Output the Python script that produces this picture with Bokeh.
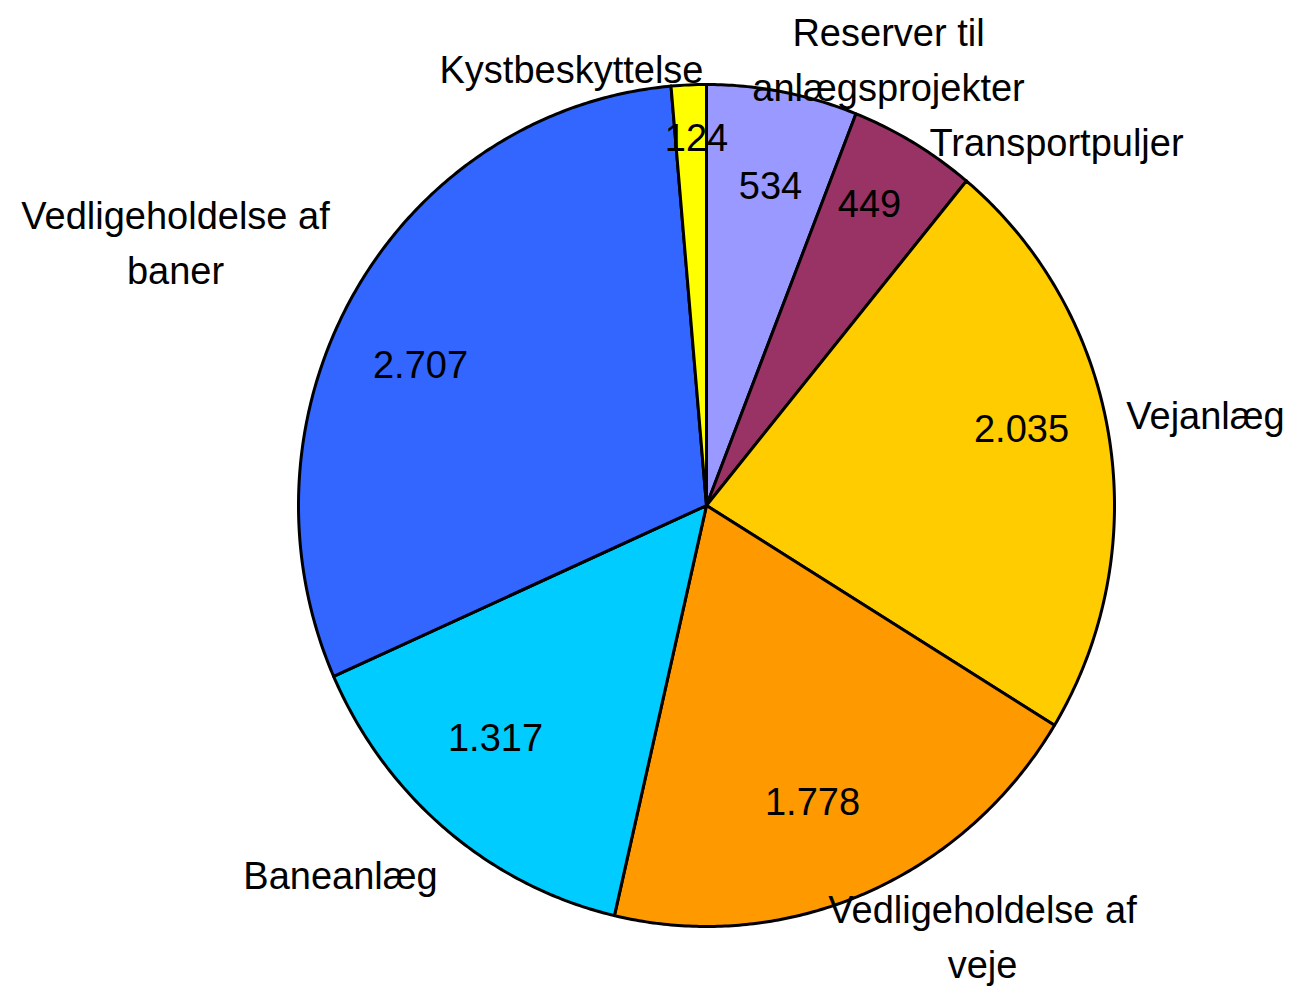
import numpy as np
from bokeh.plotting import figure
from bokeh.models import Range1d, ColumnDataSource
from bokeh.embed import file_html
from bokeh.resources import INLINE
from bokeh.core.properties import value

# ---- data ----
categories = ["Reserver til anlægsprojekter", "Transportpuljer", "Vejanlæg",
              "Vedligeholdelse af veje", "Baneanlæg", "Vedligeholdelse af baner",
              "Kystbeskyttelse"]
label_lines = [["Reserver til", "anlægsprojekter"], ["Transportpuljer"], ["Vejanlæg"],
               ["Vedligeholdelse af", "veje"], ["Baneanlæg"], ["Vedligeholdelse af", "baner"],
               ["Kystbeskyttelse"]]
values = [534, 449, 2035, 1778, 1317, 2707, 124]
value_texts = ["534", "449", "2.035", "1.778", "1.317", "2.707", "124"]

# ---- style / layout ----
colors = ["#9999FF", "#993366", "#FFCC00", "#FF9900", "#00CCFF", "#3366FF", "#FFFF00"]
W, H = 1293, 987
CX, CY, RX, RY = 706, 505, 408, 421
FONT = value("Liberation Sans")
SHIFT = -13
# label anchor positions (page px): (center x, first-line baseline, line spacing)
cat_pos = [(888, 45, 55), (1056, 155, 0), (1205, 428, 0), (982, 922, 55),
           (340, 888, 0), (175, 228, 55), (571, 82, 0)]
val_pos = [(770, 198), (869, 216), (1021, 441), (812, 814), (495, 750), (420, 377), (696, 150)]

p = figure(width=W, height=H, output_backend="svg", toolbar_location=None,
           x_range=Range1d(0, W), y_range=Range1d(H, 0),
           x_axis_type=None, y_axis_type=None, min_border=0)
p.grid.visible = False
p.outline_line_color = None
p.background_fill_color = "white"
p.border_fill_color = "white"

total = float(sum(values))
cum = np.concatenate([[0], np.cumsum(values)]) / total * 2 * np.pi
xs, ys = [], []
for a0, a1 in zip(cum[:-1], cum[1:]):
    n = max(int((a1 - a0) / (2 * np.pi) * 720), 4)
    t = np.linspace(a0, a1, n)
    xs.append([CX] + list(CX + RX * np.sin(t)) + [CX])
    ys.append([CY] + list(CY - RY * np.cos(t)) + [CY])

src = ColumnDataSource(dict(xs=xs, ys=ys, color=colors, cat=categories, val=values))
p.patches("xs", "ys", source=src, fill_color="color", line_color="black",
          line_width=3, line_join="round")

# value labels
p.text(x=[v[0] for v in val_pos], y=[v[1] + SHIFT for v in val_pos], text=value_texts,
       text_font=FONT, text_font_size="38px", text_align="center",
       text_baseline="alphabetic", text_color="black")

# category labels
tx, ty, tt = [], [], []
for lines, (x, y, dy) in zip(label_lines, cat_pos):
    for i, ln in enumerate(lines):
        tx.append(x)
        ty.append(y + i * dy + SHIFT)
        tt.append(ln)
p.text(x=tx, y=ty, text=tt, text_font=FONT, text_font_size="38px",
       text_align="center", text_baseline="alphabetic", text_color="black")

open("out.html", "w").write(file_html(p, INLINE))
